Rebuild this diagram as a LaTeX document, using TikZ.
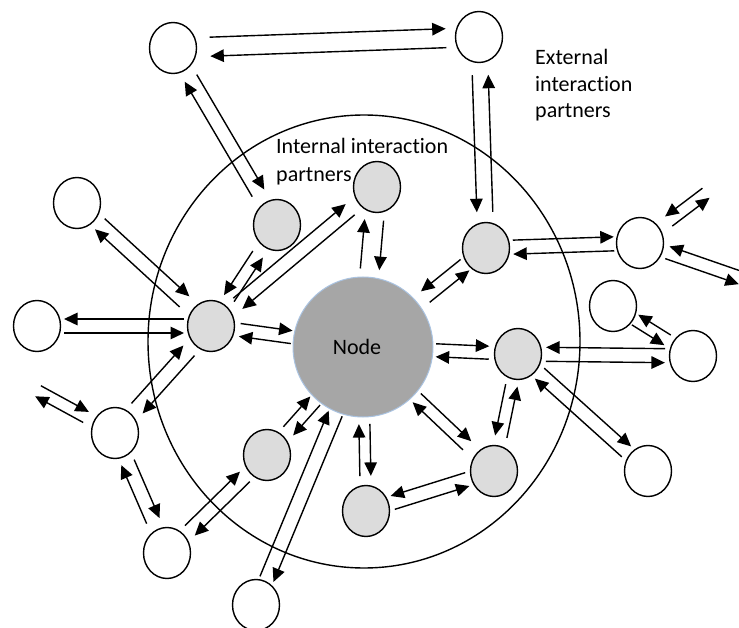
\documentclass[tikz,border=0pt]{standalone}
\usepackage{fontspec}
\setmainfont{Carlito}[Ligatures=NoCommon]
\usetikzlibrary{arrows.meta,calc,shapes.geometric}
\definecolor{intgray}{RGB}{220,220,220}
\definecolor{hubgray}{RGB}{166,166,166}
\definecolor{hubline}{RGB}{170,195,225}
\newcommand\pairlink[6]{%
  \pgfmathsetmacro\pairneg{-(#6)}%
  \draw[arr] ($(#1)!#3pt!(#2)!#5pt!#6:(#2)$) -- ($(#2)!#4pt!(#1)!#5pt!\pairneg:(#1)$);
  \draw[arr] ($(#2)!#4pt!(#1)!#5pt!#6:(#1)$) -- ($(#1)!#3pt!(#2)!#5pt!\pairneg:(#2)$);
}
\begin{document}
\begin{tikzpicture}[x=1pt,y=-1pt,
  ext/.style={ellipse,draw,line width=1.4pt,fill=white,minimum width=47pt,minimum height=51pt,inner sep=0pt},
  int/.style={ext,fill=intgray},
  hub/.style={circle,draw=hubline,line width=1pt,fill=hubgray,minimum size=140pt,inner sep=0pt},
  arr/.style={line width=1.4pt,-{Triangle[length=13.5pt,width=12.5pt]}},
  lbl/.style={align=left,anchor=base west,inner sep=0pt}
]
\useasboundingbox (0,0) rectangle (739,628);
% outer boundary
\draw[line width=1.4pt] (364,341.5) ellipse [x radius=216, y radius=226.5];
% central node
\node[hub,label={[font=\fontsize{22}{26}\selectfont,xshift=-6pt]center:Node}] (N) at (363,347) {};
% internal partners
\node[int] (G1) at (277,225) {};
\node[int] (G2) at (377,187) {};
\node[int] (G3) at (211,326) {};
\node[int] (G4) at (486,248) {};
\node[int] (G5) at (518,354) {};
\node[int] (G6) at (494,471) {};
\node[int] (G7) at (366,511) {};
\node[int] (G8) at (267,455) {};
% external partners
\node[ext] (E1) at (173,48) {};
\node[ext] (E2) at (479,37) {};
\node[ext] (E3) at (77,203) {};
\node[ext] (E4) at (37,326) {};
\node[ext] (E5) at (115,433) {};
\node[ext] (E6) at (167,553) {};
\node[ext] (E7) at (256,605) {};
\node[ext] (E8) at (640,243) {};
\node[ext] (E9) at (613,306) {};
\node[ext] (E10) at (693,356) {};
\node[ext] (E11) at (648,471) {};
\coordinate (s1) at (38,391);
\coordinate (s2) at (706,193);
\coordinate (s3) at (741,278);
% labels (anchor = baseline of the last line)
\node[lbl,font=\fontsize{22}{28.5}\selectfont] (tin) at (276,182) {Internal interaction\\partners};
\node[lbl,font=\fontsize{22}{26.5}\selectfont] (tex) at (535,118) {External\\interaction\\partners};
% connectors
\pairlink{E1}{E2}{37}{33}{9.5}{90}
\pairlink{E1}{G1}{35}{37}{7}{90}
\pairlink{E2}{G4}{38}{36}{8}{-90}
\pairlink{E3}{G3}{31}{36}{7.2}{90}
\pairlink{E4}{G3}{27}{27}{7}{-90}
\pairlink{G3}{N}{29}{72}{6.5}{90}
\pairlink{G3}{G1}{33}{35}{6}{-90}
\pairlink{G3}{G2}{35}{35}{7}{90}
\pairlink{G3}{E5}{33}{33}{7.5}{90}
\pairlink{E5}{s1}{33}{0}{6}{90}
\pairlink{E5}{E6}{32}{35}{7}{90}
\pairlink{E6}{G8}{32}{31}{7}{90}
\pairlink{G8}{N}{32}{72}{6.5}{90}
\pairlink{E7}{N}{28}{72}{7.3}{90}
\pairlink{N}{G7}{77}{35}{5.5}{90}
\pairlink{G7}{G6}{28}{28}{7}{-90}
\pairlink{N}{G6}{74}{37}{6}{90}
\pairlink{G6}{G5}{35}{32}{6}{-90}
\pairlink{N}{G5}{73}{29}{6.5}{90}
\pairlink{G5}{E10}{28}{28}{7}{-90}
\pairlink{G5}{E11}{29}{29}{7}{90}
\pairlink{E10}{E9}{30}{26}{6}{-90}
\pairlink{E8}{s2}{36}{0}{6}{-90}
\pairlink{E8}{s3}{29}{0}{6.5}{-90}
\pairlink{G4}{E8}{27}{26}{7}{90}
\pairlink{G4}{N}{27}{80}{7}{-90}
\pairlink{G2}{N}{33}{78}{9.5}{90}
\end{tikzpicture}
\end{document}
